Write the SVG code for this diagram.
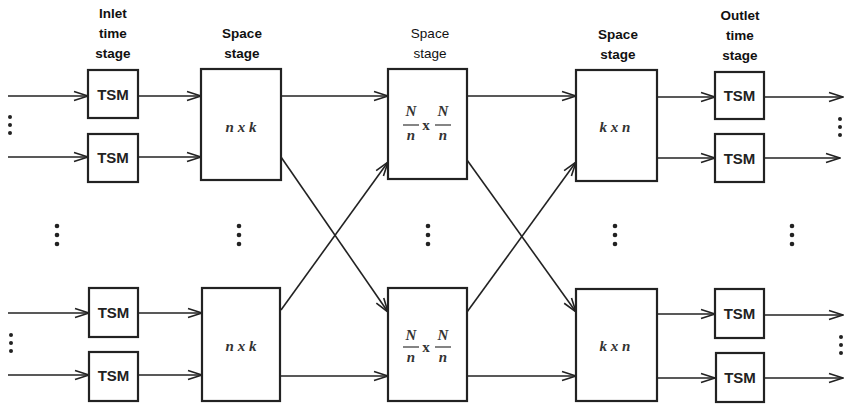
<svg xmlns="http://www.w3.org/2000/svg" width="848" height="407" viewBox="0 0 848 407">
<style>
.box{fill:#fff;stroke:#222;stroke-width:2.2}
.ln{fill:none;stroke:#222;stroke-width:1.6;marker-end:url(#ah)}
.lbl{font-family:"Liberation Sans",Arial,sans-serif;font-weight:bold;font-size:13.5px;fill:#111;text-anchor:middle}
.tsm{font-family:"Liberation Sans",Arial,sans-serif;font-weight:bold;font-size:15px;fill:#222;text-anchor:middle}
.mx{font-family:"Liberation Serif","Times New Roman",serif;font-weight:bold;font-style:italic;font-size:15px;fill:#333;text-anchor:middle}
.dot{fill:#222}
</style>
<defs>
<marker id="ah" markerWidth="16" markerHeight="12" refX="15" refY="6" orient="auto" markerUnits="userSpaceOnUse">
<path d="M1,1.5 L15,6 L1,10.5" fill="none" stroke="#222" stroke-width="1.6"/>
</marker>
<g id="dots3"><circle cx="0" cy="0" r="2.3" class="dot"/><circle cx="0" cy="9" r="2.3" class="dot"/><circle cx="0" cy="18" r="2.3" class="dot"/></g>
<g id="dots3s"><circle cx="0" cy="0" r="2" class="dot"/><circle cx="0" cy="8" r="2" class="dot"/><circle cx="0" cy="16" r="2" class="dot"/></g>
</defs>
<rect width="848" height="407" fill="#fff"/>

<g id="labels">
<text class="lbl" x="113" y="18">Inlet</text>
<text class="lbl" x="113" y="38">time</text>
<text class="lbl" x="113" y="58">stage</text>
<text class="lbl" x="242" y="38">Space</text>
<text class="lbl" x="242" y="58">stage</text>
<text class="lbl" x="430" y="38" style="font-weight:normal">Space</text>
<text class="lbl" x="430" y="58" style="font-weight:normal">stage</text>
<text class="lbl" x="618" y="39">Space</text>
<text class="lbl" x="618" y="59">stage</text>
<text class="lbl" x="740" y="20">Outlet</text>
<text class="lbl" x="740" y="40">time</text>
<text class="lbl" x="740" y="60">stage</text>
</g>

<g id="connectors">
<line class="ln" x1="8" y1="96" x2="88" y2="96"/>
<line class="ln" x1="8" y1="157" x2="88" y2="157"/>
<line class="ln" x1="8" y1="313" x2="89" y2="313"/>
<line class="ln" x1="8" y1="375" x2="89" y2="375"/>
<line class="ln" x1="138" y1="96" x2="201" y2="96"/>
<line class="ln" x1="138" y1="157" x2="201" y2="157"/>
<line class="ln" x1="138" y1="313" x2="202" y2="313"/>
<line class="ln" x1="138" y1="375" x2="202" y2="375"/>
<line class="ln" x1="281" y1="96" x2="388" y2="96"/>
<line class="ln" x1="281" y1="376" x2="388" y2="376"/>
<line class="ln" x1="281" y1="157" x2="388" y2="312"/>
<line class="ln" x1="281" y1="310" x2="388" y2="162"/>
<line class="ln" x1="467" y1="96" x2="576" y2="96"/>
<line class="ln" x1="467" y1="376" x2="576" y2="376"/>
<line class="ln" x1="467" y1="160" x2="576" y2="312"/>
<line class="ln" x1="467" y1="312" x2="576" y2="162"/>
<line class="ln" x1="657" y1="97" x2="715" y2="97"/>
<line class="ln" x1="657" y1="158" x2="715" y2="158"/>
<line class="ln" x1="657" y1="314" x2="715" y2="314"/>
<line class="ln" x1="657" y1="378" x2="715" y2="378"/>
<line class="ln" x1="764" y1="97" x2="843" y2="97"/>
<line class="ln" x1="764" y1="158" x2="840" y2="158"/>
<line class="ln" x1="764" y1="315" x2="843" y2="315"/>
<line class="ln" x1="764" y1="378" x2="843" y2="378"/>
</g>

<g id="in-tsm-1"><rect class="box" x="88" y="70" width="50" height="48"/><text class="tsm" x="113" y="100">TSM</text></g>
<g id="in-tsm-2"><rect class="box" x="88" y="134" width="50" height="48"/><text class="tsm" x="113" y="163">TSM</text></g>
<g id="in-tsm-3"><rect class="box" x="89" y="288" width="49" height="49"/><text class="tsm" x="113.5" y="318">TSM</text></g>
<g id="in-tsm-4"><rect class="box" x="89" y="352" width="49" height="49"/><text class="tsm" x="113.5" y="381">TSM</text></g>

<g id="s1-top"><rect class="box" x="201" y="69" width="80" height="111"/><text class="mx" x="241" y="132">n x k</text></g>
<g id="s1-bot"><rect class="box" x="202" y="288" width="78" height="113"/><text class="mx" x="241" y="351">n x k</text></g>

<g id="s2-top"><rect class="box" x="388" y="69" width="79" height="110"/>
<text class="mx" x="411" y="116">N</text><line x1="403" y1="125" x2="419" y2="125" stroke="#333" stroke-width="1.2"/><text class="mx" x="411" y="140">n</text>
<text class="mx" x="426" y="130" style="font-style:normal">x</text>
<text class="mx" x="443" y="116">N</text><line x1="435" y1="125" x2="451" y2="125" stroke="#333" stroke-width="1.2"/><text class="mx" x="443" y="140">n</text>
</g>
<g id="s2-bot"><rect class="box" x="388" y="288" width="79" height="113"/>
<text class="mx" x="411" y="340">N</text><line x1="403" y1="347" x2="419" y2="347" stroke="#333" stroke-width="1.2"/><text class="mx" x="411" y="362">n</text>
<text class="mx" x="426" y="352" style="font-style:normal">x</text>
<text class="mx" x="443" y="340">N</text><line x1="435" y1="347" x2="451" y2="347" stroke="#333" stroke-width="1.2"/><text class="mx" x="443" y="362">n</text>
</g>

<g id="s3-top"><rect class="box" x="576" y="70" width="81" height="111"/><text class="mx" x="615" y="132">k x n</text></g>
<g id="s3-bot"><rect class="box" x="576" y="289" width="81" height="112"/><text class="mx" x="615" y="351">k x n</text></g>

<g id="out-tsm-1"><rect class="box" x="715" y="72" width="49" height="47"/><text class="tsm" x="739.5" y="101">TSM</text></g>
<g id="out-tsm-2"><rect class="box" x="715" y="134" width="49" height="48"/><text class="tsm" x="739.5" y="164">TSM</text></g>
<g id="out-tsm-3"><rect class="box" x="715" y="289" width="49" height="49"/><text class="tsm" x="739.5" y="319">TSM</text></g>
<g id="out-tsm-4"><rect class="box" x="716" y="353" width="48" height="49"/><text class="tsm" x="740" y="383">TSM</text></g>

<g id="ellipses">
<use href="#dots3s" x="10" y="117"/>
<use href="#dots3s" x="11" y="335"/>
<use href="#dots3" x="57" y="226"/>
<use href="#dots3" x="239" y="226"/>
<use href="#dots3" x="428" y="226"/>
<use href="#dots3" x="615" y="226"/>
<use href="#dots3" x="792" y="226"/>
<use href="#dots3s" x="840" y="119"/>
<use href="#dots3s" x="841" y="337"/>
</g>
</svg>
